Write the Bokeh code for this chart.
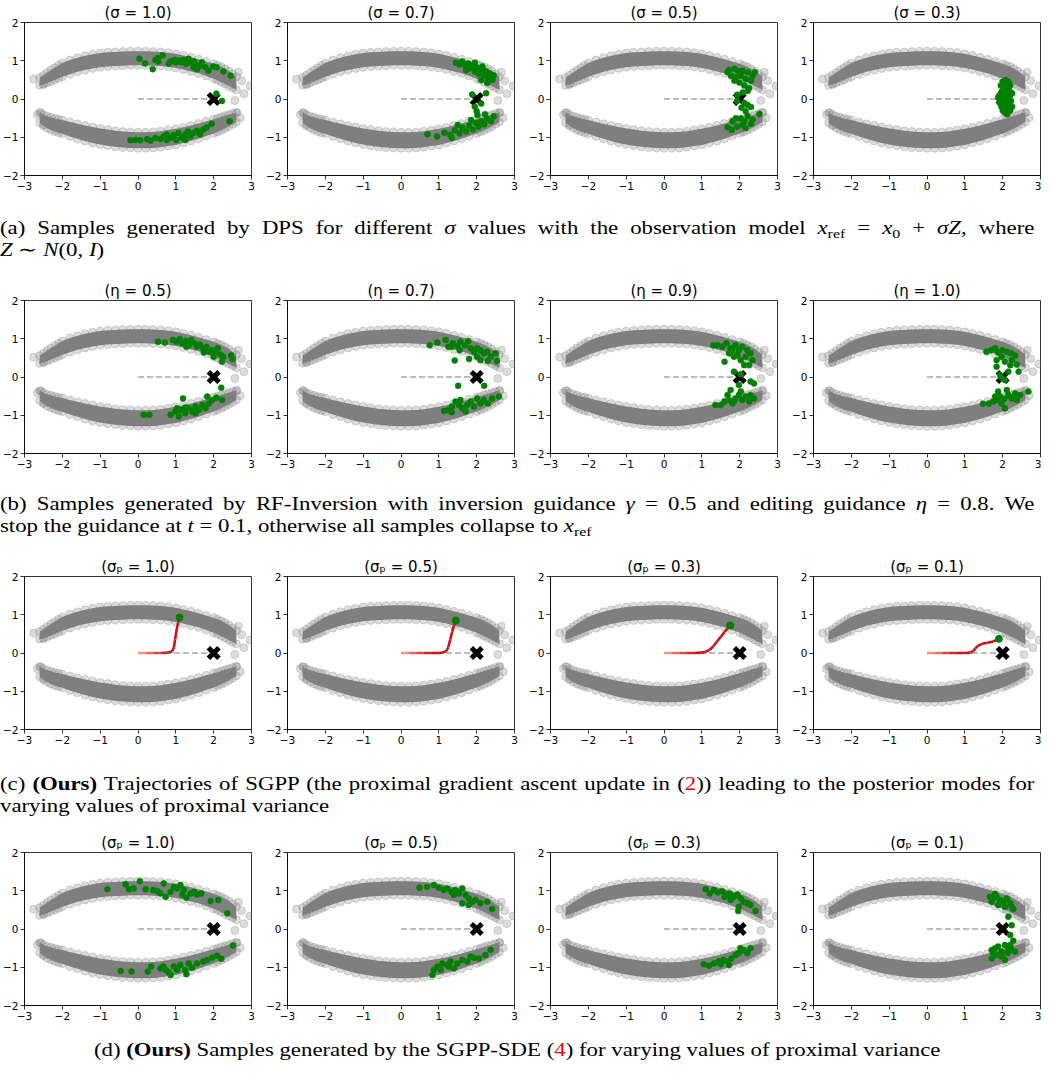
from bokeh.plotting import figure
from bokeh.layouts import column, row
from bokeh.models import Div, Range1d, FixedTicker
from bokeh.embed import file_html
from bokeh.resources import INLINE

# ---------------- shared data: the two gray arcs ----------------
arc_x = [-2.6, -2.5, -2.4, -2.3, -2.2, -2.1, -2.0, -1.8, -1.6, -1.4, -1.2, -1.0, -0.8, -0.6, -0.4, -0.2,
         0.0, 0.2, 0.4, 0.6, 0.8, 1.0, 1.2, 1.4, 1.6, 1.8, 2.0, 2.1, 2.2, 2.3, 2.4, 2.5, 2.6]
upper_hi = [0.56, 0.62, 0.69, 0.76, 0.82, 0.88, 0.94, 1.02, 1.08, 1.13, 1.17, 1.20, 1.22, 1.23, 1.24, 1.25,
            1.25, 1.25, 1.24, 1.23, 1.21, 1.18, 1.14, 1.09, 1.04, 0.98, 0.92, 0.88, 0.84, 0.79, 0.73, 0.66, 0.58]
upper_lo = [0.36, 0.38, 0.42, 0.46, 0.50, 0.54, 0.58, 0.65, 0.71, 0.76, 0.80, 0.83, 0.85, 0.86, 0.87, 0.88,
            0.88, 0.88, 0.87, 0.86, 0.84, 0.81, 0.77, 0.72, 0.67, 0.60, 0.53, 0.49, 0.44, 0.39, 0.34, 0.29, 0.24]
lower_hi = [-0.36, -0.41, -0.45, -0.48, -0.51, -0.53, -0.55, -0.60, -0.65, -0.69, -0.73, -0.77, -0.80, -0.83,
            -0.85, -0.86, -0.87, -0.87, -0.86, -0.84, -0.81, -0.78, -0.74, -0.69, -0.64, -0.58, -0.53, -0.50,
            -0.47, -0.44, -0.41, -0.38, -0.35]
lower_lo = [-0.62, -0.70, -0.76, -0.81, -0.85, -0.88, -0.91, -0.98, -1.04, -1.10, -1.15, -1.19, -1.22, -1.25,
            -1.27, -1.28, -1.29, -1.29, -1.28, -1.26, -1.23, -1.20, -1.15, -1.10, -1.04, -0.97, -0.90, -0.86,
            -0.82, -0.77, -0.72, -0.66, -0.60]
stray_x = [-2.76, -2.50, 2.96, 2.80, 2.56, 2.65, 2.74, 2.61, 2.70, -2.57, -2.66, -2.49]
stray_y = [0.52, 0.39, 0.34, 0.14, -0.04, 0.70, 0.48, -0.36, -0.49, -0.36, -0.41, -0.67]
ref_x = [2.0]
ref_y = [0.0]
dash_x = [0.0, 2.0]
dash_y = [0.0, 0.0]

x_ticks = [-3, -2, -1, 0, 1, 2, 3]
y_ticks = [-2, -1, 0, 1, 2]

# ---------------- titles ----------------
titles_a = ["(σ = 1.0)", "(σ = 0.7)", "(σ = 0.5)", "(σ = 0.3)"]
titles_b = ["(η = 0.5)", "(η = 0.7)", "(η = 0.9)", "(η = 1.0)"]
titles_c = ["(σₚ = 1.0)", "(σₚ = 0.5)", "(σₚ = 0.3)", "(σₚ = 0.1)"]
titles_d = ["(σₚ = 1.0)", "(σₚ = 0.5)", "(σₚ = 0.3)", "(σₚ = 0.1)"]

# ---------------- green samples ----------------
a1_pts = [(0.04, 1.05), (0.19, 0.93), (0.39, 0.78), (0.46, 1.02), (0.52, 1.07), (0.65, 1.14), (0.54, 0.98),
          (0.81, 0.92), (0.91, 0.99), (1.01, 0.96), (1.10, 1.00), (1.16, 0.96), (1.20, 1.02), (1.27, 0.92),
          (1.34, 1.05), (1.38, 0.96), (1.47, 0.83), (1.51, 0.92), (1.56, 0.78), (1.64, 0.87), (1.69, 0.96),
          (1.78, 0.83), (1.86, 0.74), (1.99, 0.85), (2.08, 0.83), (2.26, 0.72), (2.45, 0.61), (1.47, 0.99),
          (0.98, 1.02), (0.85, 0.98), (2.07, 0.14), (2.22, -0.05),
          (-0.20, -1.08), (-0.07, -1.07), (0.06, -1.08), (0.24, -1.05), (0.33, -1.09), (0.46, -1.02),
          (0.59, -1.05), (0.68, -0.98), (0.76, -0.93), (0.85, -1.02), (0.94, -0.95), (1.01, -1.07),
          (1.07, -0.89), (1.16, -1.02), (1.25, -0.93), (1.32, -0.85), (1.38, -0.98), (1.47, -0.89),
          (1.56, -0.83), (1.64, -0.92), (1.73, -0.80), (1.82, -0.74), (1.95, -0.65), (2.42, -0.58),
          (1.25, -1.07), (0.76, -1.07)]
a2_pts = [(1.45, 0.95), (1.55, 0.90), (1.62, 0.98), (1.70, 0.88), (1.78, 0.93), (1.80, 0.80), (1.88, 0.85),
          (1.95, 0.72), (2.00, 0.82), (2.05, 0.66), (2.10, 0.76), (2.15, 0.85), (2.20, 0.62), (2.25, 0.72),
          (2.30, 0.55), (2.35, 0.66), (2.42, 0.50), (1.72, 0.75), (2.12, 0.50), (2.45, 0.62), (1.95, 0.95),
          (2.28, 0.42), (1.88, 0.12), (2.12, -0.12), (2.25, 0.15), (1.95, -0.20),
          (0.70, -0.92), (0.95, -0.98), (1.15, -0.88), (1.30, -0.94), (1.42, -0.82), (1.55, -0.90),
          (1.62, -0.75), (1.72, -0.85), (1.80, -0.70), (1.90, -0.80), (1.98, -0.62), (2.05, -0.72),
          (2.12, -0.58), (2.20, -0.66), (2.28, -0.52), (2.38, -0.58), (2.45, -0.45), (1.50, -0.68),
          (1.85, -0.55), (2.02, -0.42), (2.22, -0.40), (1.35, -1.02), (2.00, -0.32)]
a3_pts = [(1.72, 0.76), (1.86, 0.79), (1.96, 0.73), (2.08, 0.74), (2.21, 0.70), (2.40, 0.70), (1.77, 0.61),
          (1.90, 0.57), (2.03, 0.61), (2.16, 0.52), (2.30, 0.48), (1.99, 0.43), (2.12, 0.35), (2.25, 0.28),
          (2.21, 0.21), (2.08, 0.17), (1.94, 0.11), (1.93, -0.05), (2.12, -0.10), (2.21, -0.16), (2.05, -0.23),
          (2.30, -0.21), (2.16, -0.32), (1.90, -0.50), (2.03, -0.51), (2.21, -0.45), (2.34, -0.54),
          (2.52, -0.39), (1.81, -0.58), (1.68, -0.74), (1.79, -0.81), (1.93, -0.72), (2.08, -0.67),
          (2.16, -0.76), (2.30, -0.65), (2.12, -0.58), (1.86, 0.48), (2.34, 0.61), (1.68, 0.70)]
a4_pts = [(2.00, 0.45), (2.10, 0.40), (2.20, 0.35), (2.05, 0.30), (2.15, 0.25), (1.98, 0.20), (2.10, 0.15),
          (2.20, 0.10), (2.00, 0.05), (2.12, 0.00), (2.22, -0.05), (2.03, -0.10), (2.15, -0.15), (1.97, -0.20),
          (2.10, -0.25), (2.20, -0.30), (2.05, -0.35), (2.18, 0.20), (1.95, 0.35), (2.25, 0.15), (2.08, 0.50),
          (2.15, 0.45), (1.92, 0.00), (2.25, -0.20), (2.00, -0.30), (2.12, -0.40), (2.05, 0.10), (2.18, -0.10),
          (1.92, 0.10), (1.92, -0.10), (1.96, 0.16), (1.96, -0.14), (2.02, -0.02), (1.88, 0.04)]

b1_pts = [(0.53, 0.92), (0.71, 0.90), (0.92, 0.97), (1.02, 0.92), (1.10, 0.99), (1.17, 0.88), (1.26, 0.94),
          (1.34, 0.83), (1.41, 0.97), (1.48, 0.88), (1.56, 0.79), (1.63, 0.85), (1.72, 0.75), (1.81, 0.79),
          (1.87, 0.66), (1.96, 0.70), (2.05, 0.64), (2.11, 0.75), (2.18, 0.59), (2.25, 0.53), (2.22, 0.40),
          (2.46, 0.56), (2.50, 0.47), (1.28, 0.79), (1.74, 0.64), (2.00, 0.53), (2.20, -0.28),
          (0.15, -0.99), (0.30, -0.99), (0.86, -0.99), (0.99, -0.90), (1.08, -1.03), (1.19, -0.56),
          (1.12, -0.86), (1.25, -0.95), (1.34, -0.82), (1.43, -0.90), (1.52, -0.77), (1.61, -0.86),
          (1.70, -0.73), (1.78, -0.82), (1.87, -0.69), (1.96, -0.60), (2.07, -0.54), (2.22, -0.60),
          (1.83, -0.51), (1.52, -0.95), (1.25, -0.80), (1.03, -0.82)]
b2_pts = [(0.76, 0.83), (0.96, 0.90), (1.18, 0.97), (1.25, 0.79), (1.37, 0.88), (1.49, 0.82), (1.57, 0.92),
          (1.69, 0.83), (1.78, 0.94), (1.84, 0.75), (1.93, 0.66), (2.01, 0.75), (2.10, 0.70), (2.19, 0.62),
          (2.28, 0.66), (2.37, 0.53), (2.50, 0.62), (2.54, 0.42), (2.30, 0.42), (2.10, 0.44), (1.80, 0.47),
          (1.42, 0.43), (1.55, 0.70), (1.34, 0.79), (2.01, 0.53), (1.51, -0.23), (2.20, -0.23),
          (1.14, -0.89), (1.25, -0.86), (1.35, -0.77), (1.44, -0.64), (1.53, -0.73), (1.62, -0.82),
          (1.71, -0.90), (1.75, -0.73), (1.84, -0.64), (1.93, -0.77), (2.01, -0.56), (2.10, -0.69),
          (2.19, -0.60), (2.30, -0.69), (2.41, -0.56), (2.59, -0.51), (1.57, -0.60), (1.34, -0.92)]
b3_pts = [(1.30, 0.83), (1.42, 0.83), (1.54, 0.79), (1.65, 0.88), (1.76, 0.75), (1.89, 0.83), (1.98, 0.70),
          (2.07, 0.79), (2.20, 0.70), (2.29, 0.62), (1.72, 0.62), (1.85, 0.53), (1.60, 0.40), (2.03, 0.44),
          (2.16, 0.53), (2.25, 0.31), (2.12, 0.31), (1.94, 0.57), (1.80, 0.70), (2.34, 0.44),
          (1.85, 0.14), (2.03, 0.07), (2.29, -0.12), (2.38, -0.17), (1.98, -0.21), (1.76, -0.34),
          (1.36, -0.73), (1.50, -0.73), (1.60, -0.64), (1.72, -0.60), (1.81, -0.69), (1.89, -0.56),
          (1.98, -0.47), (2.07, -0.60), (2.16, -0.51), (2.25, -0.64), (2.38, -0.56), (2.03, -0.38),
          (1.68, -0.47), (1.85, -0.64), (2.29, -0.47)]
b4_pts = [(1.57, 0.66), (1.69, 0.70), (1.80, 0.75), (1.88, 0.64), (1.99, 0.70), (2.11, 0.66), (2.22, 0.62),
          (2.33, 0.56), (1.84, 0.44), (2.06, 0.40), (2.20, 0.31), (2.37, 0.33), (2.42, 0.14), (1.97, 0.53),
          (2.24, 0.44), (1.84, 0.27), (2.15, 0.14), (1.97, -0.02), (2.06, -0.08), (1.93, 0.05),
          (1.48, -0.70), (1.64, -0.69), (1.75, -0.64), (1.84, -0.60), (1.93, -0.51), (2.04, -0.57),
          (2.06, -0.82), (2.15, -0.47), (2.24, -0.56), (2.33, -0.43), (2.46, -0.47), (2.68, -0.38),
          (1.88, -0.38), (2.11, -0.34), (1.97, -0.69), (1.80, -0.51), (2.37, -0.60)]

d1_pts = [(-0.81, 1.04), (-0.33, 1.17), (-0.24, 1.04), (-0.11, 1.06), (0.05, 1.25), (0.20, 1.04), (0.40, 1.02),
          (0.51, 0.99), (0.59, 0.93), (0.68, 1.19), (0.73, 0.84), (0.95, 1.10), (1.03, 1.06), (1.12, 1.15),
          (1.21, 1.02), (1.28, 0.82), (1.39, 0.93), (1.48, 0.97), (1.56, 0.90), (1.67, 0.93), (1.92, 0.73),
          (2.12, 0.76), (2.36, 0.41), (0.86, 0.97), (1.17, 0.90),
          (-0.46, -1.10), (-0.17, -1.11), (0.26, -1.11), (0.35, -0.98), (0.67, -0.98), (0.73, -1.07),
          (0.81, -1.13), (0.86, -1.20), (0.95, -0.98), (1.03, -1.07), (1.12, -0.94), (1.28, -1.18),
          (1.34, -0.90), (1.43, -1.01), (1.56, -0.90), (1.72, -0.85), (1.83, -0.81), (1.96, -0.75),
          (2.09, -0.70), (2.20, -0.78), (2.51, -0.43), (1.25, -1.07), (0.59, -1.03)]
d2_pts = [(0.49, 1.08), (0.69, 1.10), (0.87, 1.15), (1.00, 1.08), (1.13, 1.02), (1.22, 1.06), (1.34, 0.97),
          (1.44, 1.02), (1.53, 0.93), (1.62, 1.06), (1.71, 0.89), (1.79, 0.80), (1.88, 0.71), (1.97, 0.76),
          (2.10, 0.67), (2.28, 0.71), (2.41, 0.52), (1.40, 0.89), (1.62, 0.67), (1.79, 0.63),
          (0.83, -1.20), (0.87, -1.07), (0.96, -0.98), (1.09, -0.90), (1.22, -0.94), (1.31, -0.85),
          (1.40, -1.03), (1.49, -0.90), (1.62, -0.81), (1.75, -0.85), (1.84, -0.72), (1.93, -0.75),
          (2.06, -0.77), (2.23, -0.68), (2.37, -0.55), (1.05, -1.07), (1.27, -0.98)]
d3_pts = [(1.10, 1.04), (1.21, 0.93), (1.32, 1.02), (1.42, 0.96), (1.54, 0.99), (1.65, 0.89), (1.74, 0.93),
          (1.85, 0.84), (1.94, 0.90), (2.03, 0.80), (2.10, 0.71), (2.20, 0.67), (2.29, 0.63), (1.98, 0.58),
          (1.96, 0.47), (2.42, 0.47), (1.76, 0.76), (1.60, 0.84),
          (1.05, -0.92), (1.19, -0.96), (1.32, -0.90), (1.45, -0.85), (1.57, -0.81), (1.67, -0.85),
          (1.78, -0.77), (1.89, -0.68), (1.98, -0.63), (2.10, -0.55), (2.20, -0.63), (2.29, -0.50),
          (2.02, -0.50), (1.72, -0.94), (1.50, -0.92)]
d4_pts = [(1.66, 0.84), (1.75, 0.80), (1.84, 0.84), (1.93, 0.76), (2.02, 0.71), (2.11, 0.80), (2.20, 0.67),
          (2.24, 0.58), (1.71, 0.71), (1.88, 0.63), (2.06, 0.58), (2.28, 0.52), (1.80, 0.92), (2.15, 0.32),
          (2.24, 0.10), (2.20, -0.16), (2.28, -0.31),
          (1.71, -0.55), (1.80, -0.50), (1.88, -0.46), (1.97, -0.59), (2.06, -0.42), (2.15, -0.50),
          (2.24, -0.55), (2.33, -0.59), (1.71, -0.77), (1.84, -0.68), (2.06, -0.81), (1.97, -0.72),
          (2.20, -0.42), (2.13, -0.63), (1.75, -0.64)]

# ---------------- SGPP trajectories (row c) ----------------
c1_tx = [0.0, 0.2, 0.4, 0.6, 0.8, 0.9, 0.95, 0.98, 1.02, 1.06, 1.10]
c1_ty = [0.0, 0.0, 0.0, 0.0, 0.01, 0.04, 0.15, 0.35, 0.60, 0.80, 0.93]
c2_tx = [0.0, 0.2, 0.4, 0.6, 0.8, 1.0, 1.1, 1.2, 1.25, 1.3, 1.35, 1.4, 1.45]
c2_ty = [0.0, 0.0, 0.0, 0.0, 0.0, 0.0, 0.01, 0.05, 0.15, 0.35, 0.55, 0.72, 0.85]
c3_tx = [0.0, 0.2, 0.4, 0.6, 0.8, 1.0, 1.1, 1.2, 1.3, 1.4, 1.5, 1.6, 1.75]
c3_ty = [0.0, 0.0, 0.0, 0.0, 0.0, 0.01, 0.03, 0.08, 0.17, 0.30, 0.42, 0.55, 0.72]
c4_tx = [0.0, 0.2, 0.4, 0.6, 0.8, 1.0, 1.15, 1.22, 1.28, 1.35, 1.45, 1.6, 1.75, 1.9]
c4_ty = [0.0, 0.0, 0.0, 0.0, 0.0, 0.0, 0.01, 0.05, 0.12, 0.19, 0.24, 0.27, 0.30, 0.37]

MINUS = "\u2212"
GRAY = "#808080"
GREEN = "#008000"


def label_map(ticks):
    return {t: (MINUS + str(-t) if t < 0 else str(t)) for t in ticks}


def traj_colors(xs, ys):
    c0 = (250, 185, 155)
    c1 = (196, 22, 28)
    cols = []
    dist = 0.0
    for i in range(len(xs) - 1):
        dist += ((xs[i + 1] - xs[i]) ** 2 + (ys[i + 1] - ys[i]) ** 2) ** 0.5
        t = min(1.0, dist / 0.9)
        c = tuple(int(round(c0[k] + (c1[k] - c0[k]) * t)) for k in range(3))
        cols.append("#%02x%02x%02x" % c)
    return cols


def make_panel(title, last, pts=None, traj=None):
    p = figure(frame_width=227, frame_height=153, x_range=Range1d(-3, 3), y_range=Range1d(-2, 2),
               output_backend="svg", toolbar_location=None,
               min_border_left=23, min_border_right=(1 if last else 12),
               min_border_top=14, min_border_bottom=22)
    p.title.text = title
    p.title.align = "center"
    p.title.text_font = "DejaVu Sans"
    p.title.text_font_style = "normal"
    p.title.text_font_size = "15px"
    p.title.text_color = "black"
    p.title.standoff = 2
    p.xgrid.visible = False
    p.ygrid.visible = False
    p.xaxis.ticker = FixedTicker(ticks=x_ticks)
    p.yaxis.ticker = FixedTicker(ticks=y_ticks)
    p.xaxis.major_label_overrides = label_map(x_ticks)
    p.yaxis.major_label_overrides = label_map(y_ticks)
    for ax in (p.xaxis[0], p.yaxis[0]):
        ax.axis_line_color = "black"
        ax.axis_line_width = 0.8
        ax.major_tick_line_color = "black"
        ax.major_tick_line_width = 0.8
        ax.major_tick_in = 0
        ax.major_tick_out = 4
        ax.minor_tick_line_color = None
        ax.major_label_text_font = "DejaVu Sans"
        ax.major_label_text_font_size = "10.5px"
        ax.major_label_text_color = "black"
        ax.major_label_standoff = 2
    p.outline_line_color = "black"
    p.outline_line_width = 0.8
    p.outline_line_alpha = 1.0

    # gray arcs
    p.varea(x=arc_x, y1=upper_lo, y2=upper_hi, fill_color="#7f7f7f", fill_alpha=1.0)
    p.varea(x=arc_x, y1=lower_lo, y2=lower_hi, fill_color="#7f7f7f", fill_alpha=1.0)
    ex = arc_x * 4 + stray_x
    ey = upper_hi + upper_lo + lower_hi + lower_lo + stray_y
    p.scatter(ex, ey, size=8, fill_color=GRAY, fill_alpha=0.28, line_color=GRAY, line_alpha=0.28)

    p.line(dash_x, dash_y, line_color="#a6a6a6", line_dash="6 3", line_width=1.3)

    if traj is not None:
        tx, ty = traj
        cols = traj_colors(tx, ty)
        p.segment(x0=tx[:-1], y0=ty[:-1], x1=tx[1:], y1=ty[1:], line_color=cols, line_width=2.6)

    p.scatter(ref_x, ref_y, marker="x", size=15, line_width=5, line_color="black")

    if pts is not None:
        p.scatter([q[0] for q in pts], [q[1] for q in pts], size=6, fill_color=GREEN,
                  line_color=GREEN, line_width=0.5)
    if traj is not None:
        p.scatter([traj[0][-1]], [traj[1][-1]], size=7, fill_color=GREEN, line_color=GREEN)
    return p


def panel_row(titles, pts_list=None, trajs=None):
    figs = []
    for i in range(4):
        figs.append(make_panel(titles[i], i == 3,
                               pts=None if pts_list is None else pts_list[i],
                               traj=None if trajs is None else trajs[i]))
    return row(*figs)


SCALE = 1.2
INNER_W = int(1037 / SCALE) - 2
BASE = ("font-family:'Liberation Serif','Times New Roman',serif;font-size:19px;line-height:22px;"
        "color:#000;transform:scaleX(%.2f);transform-origin:0 0;width:%dpx;" % (SCALE, INNER_W))
SUB = "<sub style='font-size:70%;line-height:0;vertical-align:-0.3em'>"


def caption(lines, pad, height, center=False):
    if center:
        inner = "<div style=\"%stext-align:center;white-space:nowrap;\">%s</div>" % (BASE, lines[0])
    else:
        inner = ("<div style=\"%stext-align:justify;text-align-last:justify;white-space:nowrap;\">%s</div>"
                 % (BASE, lines[0]) +
                 "<div style=\"%stext-align:left;white-space:nowrap;\">%s</div>" % (BASE, lines[1]))
    html = ("<div style=\"width:1037px;height:%dpx;padding-top:%dpx;box-sizing:border-box;\">%s</div>"
            % (height, pad, inner))
    return Div(text=html, width=1037, height=height, margin=0)


RED2 = "<span style='color:#e8000b'>2</span>"
RED4 = "<span style='color:#e8000b'>4</span>"

cap_a = caption(["(a) Samples generated by DPS for different <i>σ</i> values with the observation model "
                 "<i>x</i>" + SUB + "ref</sub> = <i>x</i>" + SUB + "0</sub> + <i>σZ</i>, where",
                 "<i>Z</i> ∼ <i>N</i>(0, <i>I</i>)"], 20, 81)
cap_b = caption(["(b) Samples generated by RF-Inversion with inversion guidance <i>γ</i> = 0.5 and editing "
                 "guidance <i>η</i> = 0.8. We",
                 "stop the guidance at <i>t</i> = 0.1, otherwise all samples collapse to <i>x</i>" + SUB + "ref</sub>"],
                18, 79)
cap_c = caption(["(c) <b>(Ours)</b> Trajectories of SGPP (the proximal gradient ascent update in (" + RED2 +
                 ")) leading to the posterior modes for",
                 "varying values of proximal variance"], 22, 79)
cap_d = caption(["(d) <b>(Ours)</b> Samples generated by the SGPP-SDE (" + RED4 +
                 ") for varying values of proximal variance"], 12, 32, center=True)

row_a = panel_row(titles_a, pts_list=[a1_pts, a2_pts, a3_pts, a4_pts])
row_b = panel_row(titles_b, pts_list=[b1_pts, b2_pts, b3_pts, b4_pts])
row_c = panel_row(titles_c, trajs=[(c1_tx, c1_ty), (c2_tx, c2_ty), (c3_tx, c3_ty), (c4_tx, c4_ty)])
row_d = panel_row(titles_d, pts_list=[d1_pts, d2_pts, d3_pts, d4_pts])

layout = column(row_a, cap_a, row_b, cap_b, row_c, cap_c, row_d, cap_d)

open("out.html", "w").write(file_html(layout, INLINE))
